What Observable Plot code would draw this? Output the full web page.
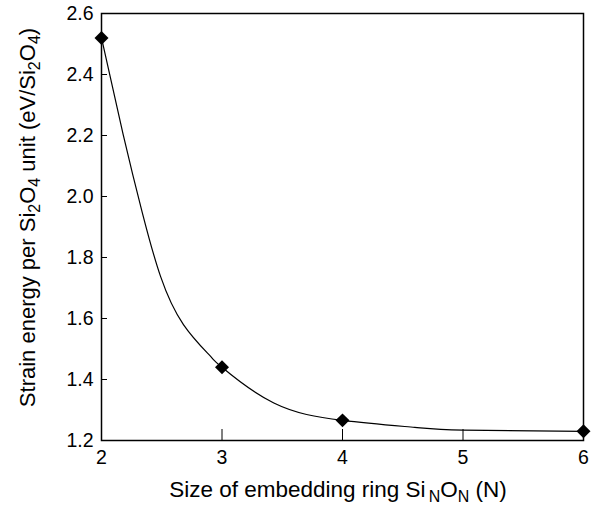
<!DOCTYPE html>
<html>
<head>
<meta charset="utf-8">
<script src="https://cdn.jsdelivr.net/npm/d3@7"></script>
<script src="https://cdn.jsdelivr.net/npm/@observablehq/plot@0.6"></script>
<style>
  html, body { margin: 0; padding: 0; background: #fff; }
</style>
</head>
<body>
<div id="chart"></div>
<script>
// Computed data points
const ringSize = [2, 3, 4, 6];
const strainEnergy = [2.52, 1.44, 1.266, 1.23];

// Fitted curve
const curveX = [2.00, 2.18, 2.34, 2.49, 2.68, 2.90, 3.00, 3.43, 4.00, 4.60, 5.00, 6.00];
const curveY = [2.52, 2.203, 1.945, 1.738, 1.580, 1.478, 1.440, 1.323, 1.266, 1.243, 1.234, 1.230];

const xTicks = [2, 3, 4, 5, 6];
const yTicks = [1.2, 1.4, 1.6, 1.8, 2.0, 2.2, 2.4, 2.6];

const points = ringSize.map((x, i) => ({x, y: strainEnergy[i]}));
const curve = curveX.map((x, i) => ({x, y: curveY[i]}));

const W = 600, H = 510;
const mL = 101, mR = 17, mT = 13, mB = 70;
const innerW = W - mL - mR, innerH = H - mT - mB;
const font = "'Liberation Sans', Arial, Helvetica, sans-serif";
const tickFont = 19.5;

const chart = Plot.plot({
  width: W,
  height: H,
  marginLeft: mL,
  marginRight: mR,
  marginTop: mT,
  marginBottom: mB,
  style: {fontFamily: font, background: "#fff", color: "#000"},
  x: {domain: [2, 6], ticks: xTicks},
  y: {domain: [1.2, 2.6], ticks: yTicks},
  marks: [
    Plot.tickX(xTicks, {x: d => d, stroke: "#000", strokeWidth: 1, insetTop: innerH - 11}),
    Plot.tickY(yTicks, {y: d => d, stroke: "#000", strokeWidth: 1, insetRight: innerW - 6}),
    Plot.axisX({ticks: xTicks, tickSize: 0, tickPadding: 10, fontSize: tickFont, label: null, tickFormat: d3.format("d")}),
    Plot.axisY({ticks: yTicks, tickSize: 0, tickPadding: 8, fontSize: tickFont, label: null, tickFormat: d3.format(".1f")}),
    Plot.line(curve, {x: "x", y: "y", curve: "natural", stroke: "#000", strokeWidth: 1.2}),
    Plot.dot(points, {x: "x", y: "y", symbol: "diamond2", r: 6.3, fill: "#000", stroke: "none"}),
    Plot.frame({stroke: "#000", strokeWidth: 1.5})
  ]
});

const svg = d3.select(chart);
svg.selectAll('g[aria-label="x-axis tick label"], g[aria-label="y-axis tick label"]')
  .attr("font-size", tickFont)
  .style("font-size", tickFont + "px");

// x-axis label with subscripts
const xl = svg.append("text")
  .attr("x", mL + innerW / 2 - 4)
  .attr("y", 497)
  .attr("text-anchor", "middle")
  .attr("font-family", font)
  .style("font-size", "22.5px")
  .attr("fill", "#000");
xl.append("tspan").text("Size of embedding ring Si");
xl.append("tspan").attr("dx", 3).attr("dy", 5).style("font-size", "16px").text("N");
xl.append("tspan").attr("dy", -5).text("O");
xl.append("tspan").attr("dy", 5).style("font-size", "16px").text("N");
xl.append("tspan").attr("dy", -5).text(" (N)");

// y-axis label with subscripts
const yl = svg.append("text")
  .attr("transform", `translate(35, ${mT + innerH / 2 - 9}) rotate(-90)`)
  .attr("text-anchor", "middle")
  .attr("font-family", font)
  .style("font-size", "22px")
  .attr("fill", "#000");
yl.append("tspan").text("Strain energy per Si");
yl.append("tspan").attr("dy", 5).style("font-size", "16px").text("2");
yl.append("tspan").attr("dy", -5).text("O");
yl.append("tspan").attr("dy", 5).style("font-size", "16px").text("4");
yl.append("tspan").attr("dy", -5).text(" unit (eV/Si");
yl.append("tspan").attr("dy", 5).style("font-size", "16px").text("2");
yl.append("tspan").attr("dy", -5).text("O");
yl.append("tspan").attr("dy", 5).style("font-size", "16px").text("4");
yl.append("tspan").attr("dy", -5).text(")");

document.getElementById("chart").appendChild(chart);
</script>
</body>
</html>
